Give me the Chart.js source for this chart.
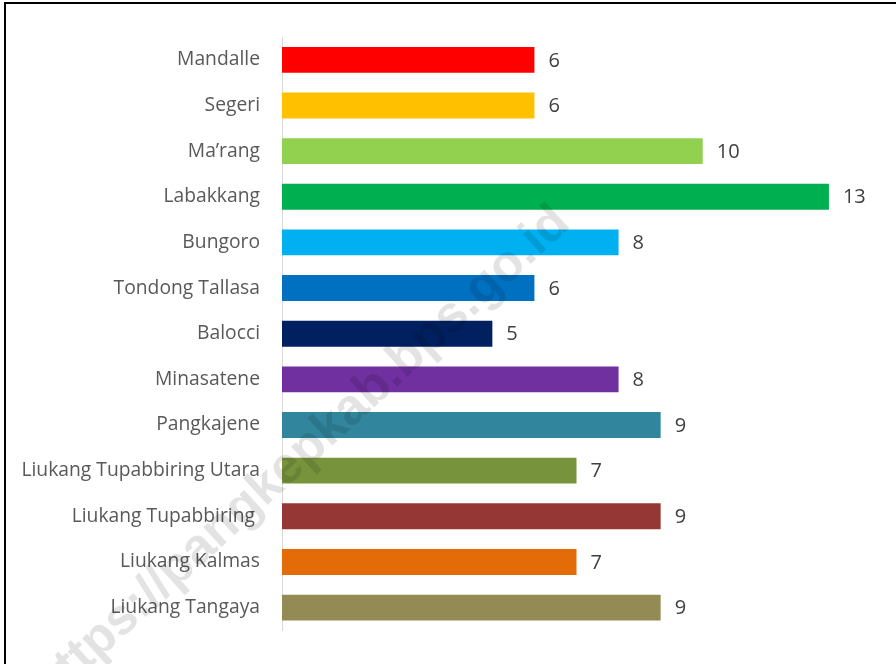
<!DOCTYPE html>
<html>
<head>
<meta charset="utf-8">
<script src="https://cdn.jsdelivr.net/npm/chart.js@4.4.1/dist/chart.umd.min.js"></script>
<style>
  html, body { margin: 0; padding: 0; background: #fff; }
  #wrap { width: 896px; height: 664px; }
</style>
</head>
<body>
<div id="wrap"><canvas id="chart" width="896" height="664"></canvas></div>
<script>
const districts = [
  "Mandalle", "Segeri", "Ma\u2019rang", "Labakkang", "Bungoro",
  "Tondong Tallasa", "Balocci", "Minasatene", "Pangkajene",
  "Liukang Tupabbiring Utara", "Liukang Tupabbiring ", "Liukang Kalmas",
  "Liukang Tangaya",
];
const counts = [6, 6, 10, 13, 8, 6, 5, 8, 9, 7, 9, 7, 9];
const barColors = [
  "#ff0000", "#ffc000", "#92d050", "#00b050", "#00b0f0",
  "#0070c0", "#002060", "#7030a0", "#31859c",
  "#77933c", "#953735", "#e36c09", "#948a54",
];
const watermark = "https://pangkepkab.bps.go.id";

const labelFont = '"Open Sans", "Noto Sans", sans-serif';

// value labels at the end of each bar
const valueLabels = {
  id: "valueLabels",
  afterDatasetsDraw(chart) {
    const ctx = chart.ctx;
    const meta = chart.getDatasetMeta(0);
    ctx.save();
    ctx.font = `20px ${labelFont}`;
    ctx.fillStyle = "#404040";
    ctx.textAlign = "left";
    ctx.textBaseline = "middle";
    meta.data.forEach((bar, i) => {
      ctx.fillText(String(counts[i]), bar.x + 14, bar.y + 1);
    });
    ctx.restore();
  },
};

// frame and watermark
const decorations = {
  id: "decorations",
  beforeDraw(chart) {
    const ctx = chart.ctx;
    ctx.save();
    ctx.fillStyle = "#fff";
    ctx.fillRect(0, 0, chart.width, chart.height);
    ctx.strokeStyle = "#000";
    ctx.lineWidth = 2;
    ctx.beginPath();
    ctx.moveTo(5, chart.height);
    ctx.lineTo(5, 3);
    ctx.lineTo(chart.width, 3);
    ctx.stroke();
    ctx.restore();
  },
  afterDraw(chart) {
    const ctx = chart.ctx;
    ctx.save();
    ctx.translate(572, 226);
    ctx.rotate(-42.5 * Math.PI / 180);
    ctx.font = 'bold 51px "Liberation Sans", Arial, sans-serif';
    ctx.fillStyle = "rgba(0, 0, 0, 0.11)";
    ctx.textAlign = "right";
    ctx.textBaseline = "alphabetic";
    ctx.fillText(watermark, 0, 0);
    ctx.restore();
  },
};

new Chart(document.getElementById("chart"), {
  type: "bar",
  data: {
    labels: districts,
    datasets: [{
      data: counts,
      backgroundColor: barColors,
      borderWidth: 0,
      barPercentage: 0.9,
      categoryPercentage: 0.63,
    }],
  },
  options: {
    indexAxis: "y",
    responsive: false,
    animation: false,
    layout: { autoPadding: false, padding: { left: 6, top: 37, bottom: 28.4, right: 25 } },
    scales: {
      x: {
        display: false,
        min: 0,
        max: 14,
      },
      y: {
        afterFit: (scale) => { scale.width = 276; },
        grid: { display: false, drawTicks: false },
        border: { display: true, color: "#d9d9d9", width: 1 },
        ticks: {
          padding: 22,
          color: "#595959",
          font: { family: labelFont, size: 19.3 },
        },
      },
    },
    plugins: {
      legend: { display: false },
      tooltip: { enabled: false },
    },
  },
  plugins: [decorations, valueLabels],
});
</script>
</body>
</html>
